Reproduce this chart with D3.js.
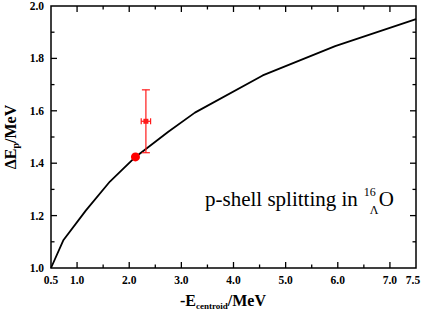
<!DOCTYPE html>
<html lang="en">
<head>
    <meta charset="utf-8">
    <title>p-shell splitting</title>
    <script src="https://cdn.jsdelivr.net/npm/d3@7"></script>
    <style>
        body { margin: 0; background: #fff; }
        svg { display: block; }
        .tick-label { font-family: "Liberation Serif", serif; font-weight: bold; font-size: 11.5px; fill: #000; }
        .axis-title { font-family: "Liberation Serif", serif; font-weight: bold; font-size: 16px; fill: #000; }
    </style>
</head>
<body>
<div id="chart"></div>
<script>
    // curve
    const curveX = [0.5, 0.74, 1.17, 1.63, 2.12, 2.75, 3.26, 4.56, 5.95, 7.5];
    const curveY = [1.0, 1.107, 1.22, 1.33, 1.424, 1.52, 1.593, 1.735, 1.847, 1.95];
    // calculated point (red dot)
    const calcX = [2.12];
    const calcY = [1.424];
    // measured point with error bars
    const expX = [2.32];
    const expY = [1.56];
    const expXErr = [0.09];
    const expYErr = [0.12];

    const xTickLabels = [0.5, 1.0, 2.0, 3.0, 4.0, 5.0, 6.0, 7.0, 7.5];
    const xMinorTicks = [1.5, 2.5, 3.5, 4.5, 5.5, 6.5];
    const xMajorTicks = [1, 2, 3, 4, 5, 6, 7];
    const yTickLabels = [1.0, 1.2, 1.4, 1.6, 1.8, 2.0];
    const yMinorTicks = [1.1, 1.3, 1.5, 1.7, 1.9];
    const yMajorTicks = [1.2, 1.4, 1.6, 1.8];

    var W = 425, H = 314;
    var margin = {top: 6, right: 9, bottom: 46, left: 51},
        width = W - margin.left - margin.right,
        height = H - margin.top - margin.bottom;

    var svg = d3.select("#chart").append("svg")
        .attr("width", W).attr("height", H);
    var g = svg.append("g")
        .attr("transform", "translate(" + margin.left + "," + margin.top + ")");

    var x = d3.scaleLinear().domain([0.5, 7.5]).range([0, width]);
    var y = d3.scaleLinear().domain([1.0, 2.0]).range([height, 0]);

    // inward ticks on all four sides
    function drawTicks(vals, len) {
        vals.forEach(function (v) {
            g.append("line").attr("x1", x(v)).attr("x2", x(v)).attr("y1", height).attr("y2", height - len);
            g.append("line").attr("x1", x(v)).attr("x2", x(v)).attr("y1", 0).attr("y2", len);
        });
    }
    function drawYTicks(vals, len) {
        vals.forEach(function (v) {
            g.append("line").attr("y1", y(v)).attr("y2", y(v)).attr("x1", 0).attr("x2", len);
            g.append("line").attr("y1", y(v)).attr("y2", y(v)).attr("x1", width).attr("x2", width - len);
        });
    }
    drawTicks(xMajorTicks, 6);
    drawTicks(xMinorTicks, 3.5);
    drawYTicks(yMajorTicks, 6);
    drawYTicks(yMinorTicks, 3.5);
    g.selectAll("line").attr("stroke", "#000").attr("stroke-width", 1.3);

    // frame
    g.append("rect").attr("width", width).attr("height", height)
        .attr("fill", "none").attr("stroke", "#000").attr("stroke-width", 1.5);

    // tick labels
    g.selectAll(".xl").data(xTickLabels).enter().append("text")
        .attr("class", "tick-label")
        .attr("x", d => x(d) + (d === 7.5 ? -3 : 0))
        .attr("y", height + 16)
        .attr("text-anchor", "middle")
        .text(d => d.toFixed(1));

    g.selectAll(".yl").data(yTickLabels).enter().append("text")
        .attr("class", "tick-label")
        .attr("x", -7)
        .attr("y", d => y(d) + 4)
        .attr("text-anchor", "end")
        .text(d => d.toFixed(1));

    // curve
    var line = d3.line().x(d => x(d[0])).y(d => y(d[1]));
    g.append("path")
        .datum(curveX.map((v, i) => [v, curveY[i]]))
        .attr("d", line)
        .attr("fill", "none")
        .attr("stroke", "#000")
        .attr("stroke-width", 1.8)
        .attr("stroke-linejoin", "round");

    // error bars
    var red = "#ff1a1a";
    expX.forEach(function (v, i) {
        var cx = x(v), cy = y(expY[i]);
        var top = y(expY[i] + expYErr[i]), bot = y(expY[i] - expYErr[i]);
        var lft = x(v - expXErr[i]), rgt = x(v + expXErr[i]);
        var eb = g.append("g").attr("stroke", red).attr("stroke-width", 1.2);
        eb.append("line").attr("x1", cx).attr("x2", cx).attr("y1", top).attr("y2", bot);
        eb.append("line").attr("x1", cx - 4).attr("x2", cx + 4).attr("y1", top).attr("y2", top);
        eb.append("line").attr("x1", cx - 4).attr("x2", cx + 4).attr("y1", bot).attr("y2", bot);
        eb.append("line").attr("x1", lft).attr("x2", rgt).attr("y1", cy).attr("y2", cy);
        eb.append("line").attr("x1", lft).attr("x2", lft).attr("y1", cy - 3).attr("y2", cy + 3);
        eb.append("line").attr("x1", rgt).attr("x2", rgt).attr("y1", cy - 3).attr("y2", cy + 3);
        g.append("rect").attr("x", cx - 2.5).attr("y", cy - 2.5).attr("width", 5).attr("height", 5).attr("fill", red);
    });

    // red dot
    g.selectAll(".dot").data(calcX).enter().append("circle")
        .attr("cx", d => x(d))
        .attr("cy", (d, i) => y(calcY[i]))
        .attr("r", 4.5)
        .attr("fill", "#ff0000");

    // annotation
    var ann = svg.append("text")
        .attr("x", 205).attr("y", 206)
        .attr("font-family", "Liberation Serif, serif")
        .attr("font-size", 21)
        .attr("fill", "#000")
        .text("p-shell splitting in");
    var sx = 205 + ann.node().getComputedTextLength() + 6;
    svg.append("text").attr("x", sx).attr("y", 196)
        .attr("font-family", "Liberation Serif, serif").attr("font-size", 12).text("16");
    svg.append("text").attr("x", sx + 6).attr("y", 214)
        .attr("font-family", "Liberation Serif, serif").attr("font-size", 12).text("Λ");
    svg.append("text").attr("x", sx + 15).attr("y", 206)
        .attr("font-family", "Liberation Serif, serif").attr("font-size", 21).text("O");

    // x title
    var xt = svg.append("text").attr("class", "axis-title")
        .attr("x", 223).attr("y", 306).attr("text-anchor", "middle");
    xt.append("tspan").text("-E");
    xt.append("tspan").attr("font-size", 9).attr("dy", 3).text("centroid");
    xt.append("tspan").attr("dy", -3).text("/MeV");

    // y title
    var yt = svg.append("text").attr("class", "axis-title")
        .attr("transform", "translate(16,137) rotate(-90)")
        .attr("text-anchor", "middle");
    yt.append("tspan").text("ΔE");
    yt.append("tspan").attr("font-size", 10).attr("dy", 3).text("p");
    yt.append("tspan").attr("dy", -3).text("/MeV");
</script>
</body>
</html>
